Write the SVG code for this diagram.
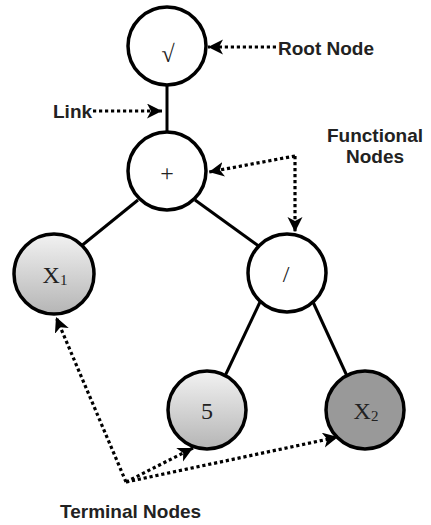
<svg xmlns="http://www.w3.org/2000/svg" width="431" height="525" viewBox="0 0 431 525">
  <style>
    .edge { stroke: #000; stroke-width: 3; fill: none; }
    .node { stroke: #000; stroke-width: 3.5; }
    .dots { stroke: #000; stroke-width: 3.2; stroke-dasharray: 3.2 2.8; fill: none; marker-end: url(#head); }
    .sym { font-family: "Liberation Serif", "Times New Roman", serif; font-size: 24px; fill: #222; text-anchor: middle; }
    .sub { font-size: 15px; }
    .label { font-family: "Liberation Sans", Arial, sans-serif; font-weight: bold; font-size: 19px; fill: #222; }
  </style>
  <defs>
    <linearGradient id="lightGray" x1="0" y1="0" x2="0" y2="1">
      <stop offset="0" stop-color="#f2f2f2"/>
      <stop offset="1" stop-color="#b5b5b5"/>
    </linearGradient>
    <marker id="head" markerUnits="userSpaceOnUse" markerWidth="18" markerHeight="16" refX="15" refY="7.5" orient="auto">
      <path d="M0,0 L15,7.5 L0,15 L4,7.5 z" fill="#000"/>
    </marker>
  </defs>

  <!-- tree links -->
  <g id="connectors">
    <line class="edge" x1="167" y1="84" x2="167" y2="134"/>
    <line class="edge" x1="138" y1="200" x2="80" y2="247"/>
    <line class="edge" x1="195" y1="200" x2="260" y2="247"/>
    <line class="edge" x1="260" y1="302" x2="225" y2="376"/>
    <line class="edge" x1="313" y1="302" x2="347" y2="376"/>
  </g>

  <g id="root">
    <circle class="node" cx="167" cy="46" r="39" fill="#fff"/>
    <text class="sym" x="168" y="62" font-size="30">√</text>
  </g>
  <g id="plus">
    <circle class="node" cx="167" cy="171" r="39" fill="#fff"/>
    <text class="sym" x="167" y="181">+</text>
  </g>
  <g id="divide">
    <circle class="node" cx="287" cy="273" r="39" fill="#fff"/>
    <text class="sym" x="286" y="282">/</text>
  </g>
  <g id="x1">
    <circle class="node" cx="54" cy="274" r="40" fill="url(#lightGray)"/>
    <text class="sym" x="55" y="283">X<tspan class="sub" dy="2">1</tspan></text>
  </g>
  <g id="five">
    <circle class="node" cx="207" cy="410" r="39" fill="url(#lightGray)"/>
    <text class="sym" x="207" y="419">5</text>
  </g>
  <g id="x2">
    <circle class="node" cx="365" cy="410" r="39" fill="#999"/>
    <text class="sym" x="366" y="419">X<tspan class="sub" dy="2">2</tspan></text>
  </g>

  <!-- annotation callouts -->
  <g id="callouts">
    <line class="dots" x1="276" y1="47" x2="208" y2="47"/>
    <line class="dots" x1="93" y1="111" x2="162" y2="111"/>
    <path class="dots" d="M295,156 L209,172"/>
    <path class="dots" d="M295,156 L295,232"/>
    <path class="dots" d="M126,482 L56,317"/>
    <path class="dots" d="M126,482 L193,448"/>
    <path class="dots" d="M126,482 L338,437"/>
  </g>

  <g id="labels">
    <text class="label" x="278" y="55">Root Node</text>
    <text class="label" x="53" y="118">Link</text>
    <text class="label" x="375" y="142" text-anchor="middle">Functional</text>
    <text class="label" x="375" y="163" text-anchor="middle">Nodes</text>
    <text class="label" x="60" y="518">Terminal Nodes</text>
  </g>
</svg>
